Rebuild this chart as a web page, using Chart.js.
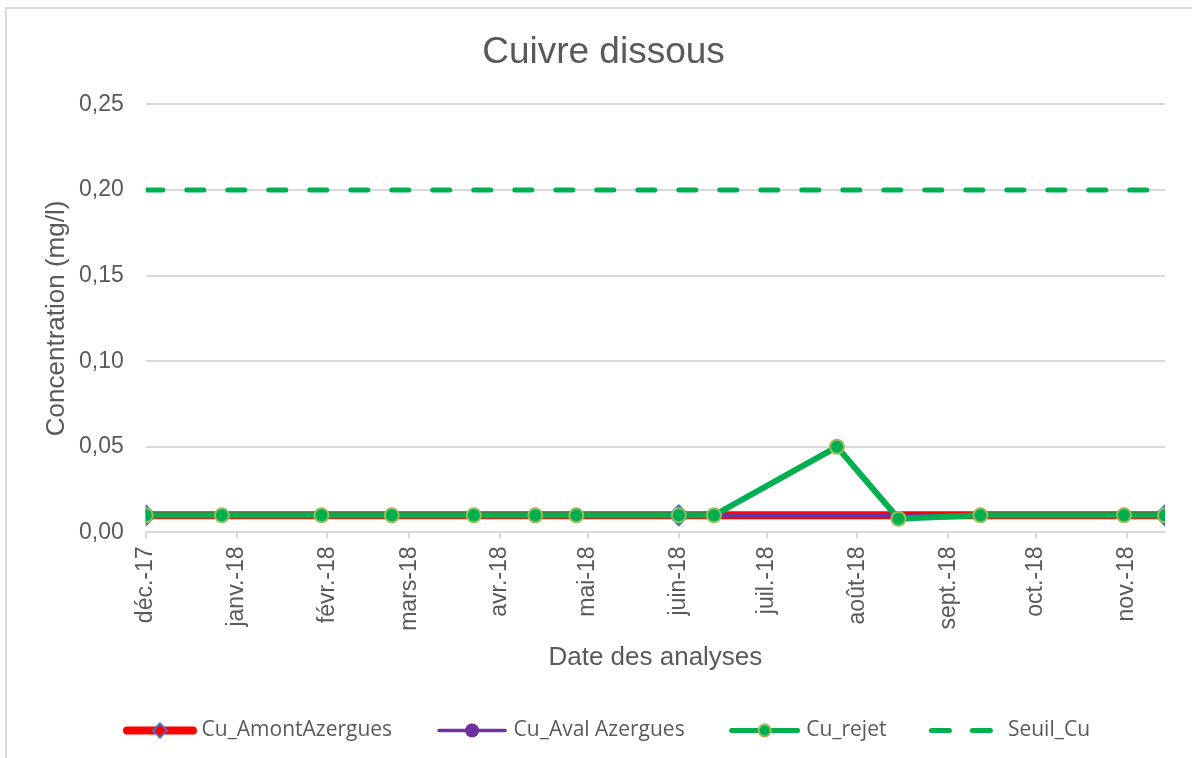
<!DOCTYPE html>
<html>
<head>
<meta charset="utf-8">
<script src="https://cdn.jsdelivr.net/npm/chart.js@4/dist/chart.umd.min.js"></script>
<style>
  body { margin: 0; background: #fff; overflow: hidden; }
  #frame { position: absolute; left: 5px; top: 7px; width: 1250px; height: 800px; border: 2px solid #d9d9d9; }
  #wrap { position: absolute; left: 0; top: 0; width: 1192px; height: 758px; }
</style>
</head>
<body>
<div id="frame"></div>
<div id="wrap"><canvas id="chart" width="1192" height="758"></canvas></div>
<script>
// data
const rejetDates = ['2017-12-01', '2017-12-27', '2018-01-30', '2018-02-23', '2018-03-23', '2018-04-13', '2018-04-27',
  '2018-06-01', '2018-06-13', '2018-07-25', '2018-08-15', '2018-09-12', '2018-10-31', '2018-11-14'];
const rejetValues = [0.01, 0.01, 0.01, 0.01, 0.01, 0.01, 0.01, 0.01, 0.01, 0.05, 0.008, 0.01, 0.01, 0.01];

const amontDates = ['2017-12-01', '2018-06-01', '2018-11-14'];
const amontValues = [0.01, 0.01, 0.01];

const avalDates = ['2017-12-01', '2018-06-01', '2018-11-14'];
const avalValues = [0.01, 0.01, 0.01];

const seuilDates = rejetDates;
const seuilValues = [0.2, 0.2, 0.2, 0.2, 0.2, 0.2, 0.2, 0.2, 0.2, 0.2, 0.2, 0.2, 0.2, 0.2];

const monthTicks = ['2017-12-01', '2018-01-01', '2018-02-01', '2018-03-01', '2018-04-01', '2018-05-01',
  '2018-06-01', '2018-07-01', '2018-08-01', '2018-09-01', '2018-10-01', '2018-11-01'];
const monthLabels = ['déc.-17', 'janv.-18', 'févr.-18', 'mars-18', 'avr.-18', 'mai-18',
  'juin-18', 'juil.-18', 'août-18', 'sept.-18', 'oct.-18', 'nov.-18'];

function ts(d) {
  const p = d.split('-');
  return Date.UTC(+p[0], +p[1] - 1, +p[2]);
}
function toPoints(dates, values) {
  return dates.map((d, i) => ({ x: ts(d), y: values[i] }));
}

const TEXT = '#595959';
const GRID = '#d9d9d9';

// legend samples (line + marker) drawn over the empty legend boxes
const legendSamples = {
  id: 'legendSamples',
  afterDraw(chart) {
    const boxes = chart.legend.legendHitBoxes;
    const ctx = chart.ctx;
    boxes.forEach((b, i) => {
      const y = b.top + b.height / 2;
      const x0 = b.left + 10, x1 = b.left + 76, xm = (x0 + x1) / 2;
      ctx.save();
      ctx.lineCap = 'round';
      if (i === 0) {
        ctx.strokeStyle = '#FF0000'; ctx.lineWidth = 8;
        ctx.beginPath(); ctx.moveTo(x0, y); ctx.lineTo(x1, y); ctx.stroke();
        ctx.beginPath(); ctx.moveTo(xm, y - 7); ctx.lineTo(xm + 7, y); ctx.lineTo(xm, y + 7); ctx.lineTo(xm - 7, y); ctx.closePath();
        ctx.fillStyle = '#FF0000'; ctx.fill();
        ctx.strokeStyle = '#4472C4'; ctx.lineWidth = 2; ctx.stroke();
      } else if (i === 1) {
        ctx.strokeStyle = '#7030A0'; ctx.lineWidth = 3.5;
        ctx.beginPath(); ctx.moveTo(x0, y); ctx.lineTo(x1, y); ctx.stroke();
        ctx.beginPath(); ctx.arc(xm, y, 7, 0, Math.PI * 2);
        ctx.fillStyle = '#7030A0'; ctx.fill();
      } else if (i === 2) {
        ctx.strokeStyle = '#00B050'; ctx.lineWidth = 5;
        ctx.beginPath(); ctx.moveTo(x0, y); ctx.lineTo(x1, y); ctx.stroke();
        ctx.beginPath(); ctx.arc(xm, y, 6, 0, Math.PI * 2);
        ctx.fillStyle = '#00B050'; ctx.fill();
        ctx.strokeStyle = '#9BBB59'; ctx.lineWidth = 2; ctx.stroke();
      } else {
        ctx.strokeStyle = '#00B050'; ctx.lineWidth = 5;
        ctx.setLineDash([18, 23]);
        ctx.beginPath(); ctx.moveTo(x0 - 2, y); ctx.lineTo(x1, y); ctx.stroke();
      }
      ctx.restore();
    });
  }
};

new Chart(document.getElementById('chart'), {
  type: 'line',
  data: {
    datasets: [
      {
        label: 'Cu_AmontAzergues',
        data: toPoints(amontDates, amontValues),
        order: 4,
        borderColor: '#FF0000',
        borderWidth: 8,
        pointStyle: 'rectRot',
        pointRadius: 10,
        pointBackgroundColor: '#FF0000',
        pointBorderColor: '#4472C4',
        pointBorderWidth: 2
      },
      {
        label: 'Cu_Aval Azergues',
        data: toPoints(avalDates, avalValues),
        order: 3,
        borderColor: '#7030A0',
        borderWidth: 4,
        pointRadius: 7,
        pointBackgroundColor: '#7030A0',
        pointBorderColor: '#7030A0',
        pointBorderWidth: 1
      },
      {
        label: 'Cu_rejet',
        data: toPoints(rejetDates, rejetValues),
        order: 2,
        borderColor: '#00B050',
        borderWidth: 6,
        pointRadius: 7,
        pointBackgroundColor: '#00B050',
        pointBorderColor: '#9BBB59',
        pointBorderWidth: 2
      },
      {
        label: 'Seuil_Cu',
        data: toPoints(seuilDates, seuilValues),
        order: 1,
        borderColor: '#00B050',
        borderWidth: 5,
        borderDash: [17, 24],
        borderCapStyle: 'round',
        pointRadius: 0
      }
    ]
  },
  options: {
    responsive: false,
    devicePixelRatio: 1,
    animation: false,
    layout: { padding: { left: 18, right: 3, top: 0, bottom: 7 } },
    elements: { line: { tension: 0, fill: false } },
    plugins: {
      title: {
        display: true,
        text: 'Cuivre dissous',
        color: TEXT,
        font: { family: 'Liberation Sans', size: 37, weight: 'normal' },
        padding: { top: 31, bottom: 29 }
      },
      legend: {
        position: 'bottom',
        labels: {
          boxWidth: 74,
          boxHeight: 10,
          padding: 37,
          color: TEXT,
          font: { family: 'Open Sans', size: 21 },
          sort: (a, b) => a.datasetIndex - b.datasetIndex,
          generateLabels(chart) {
            return chart.data.datasets.map((ds, i) => ({
              text: ds.label,
              datasetIndex: i,
              fillStyle: 'rgba(0,0,0,0)',
              strokeStyle: 'rgba(0,0,0,0)',
              lineWidth: 0,
              fontColor: TEXT,
              hidden: false
            }));
          }
        }
      },
      tooltip: { enabled: false }
    },
    scales: {
      x: {
        type: 'linear',
        min: ts(rejetDates[0]),
        max: ts(rejetDates[rejetDates.length - 1]),
        afterBuildTicks(scale) {
          scale.ticks = monthTicks.map(d => ({ value: ts(d) }));
        },
        ticks: {
          autoSkip: false,
          minRotation: 90,
          maxRotation: 90,
          padding: 8,
          color: TEXT,
          font: { family: 'Liberation Sans', size: 23 },
          callback: (value, index) => monthLabels[index]
        },
        grid: { drawOnChartArea: false, drawTicks: true, tickLength: 6, color: GRID, lineWidth: 2 },
        border: { display: true, color: GRID, width: 2 },
        title: {
          display: true,
          text: 'Date des analyses',
          color: TEXT,
          font: { family: 'Liberation Sans', size: 26 },
          padding: { top: 3, bottom: 10 }
        }
      },
      y: {
        min: 0,
        max: 0.25,
        ticks: {
          stepSize: 0.05,
          padding: 22,
          color: TEXT,
          font: { family: 'Liberation Sans', size: 23 },
          callback: v => v.toFixed(2).replace('.', ',')
        },
        grid: { color: GRID, lineWidth: 2, drawTicks: false },
        border: { display: false },
        title: {
          display: true,
          text: 'Concentration (mg/l)',
          color: TEXT,
          font: { family: 'Liberation Sans', size: 26 },
          padding: { top: 23.4, bottom: -15.6 }
        }
      },
      // empty right-hand spacer so the plot stops short of the frame edge
      spacer: {
        axis: 'y',
        position: 'right',
        display: true,
        ticks: { display: false },
        grid: { display: false },
        border: { display: false },
        afterFit(scale) { scale.width = 24; }
      }
    }
  },
  plugins: [legendSamples]
});
</script>
</body>
</html>
